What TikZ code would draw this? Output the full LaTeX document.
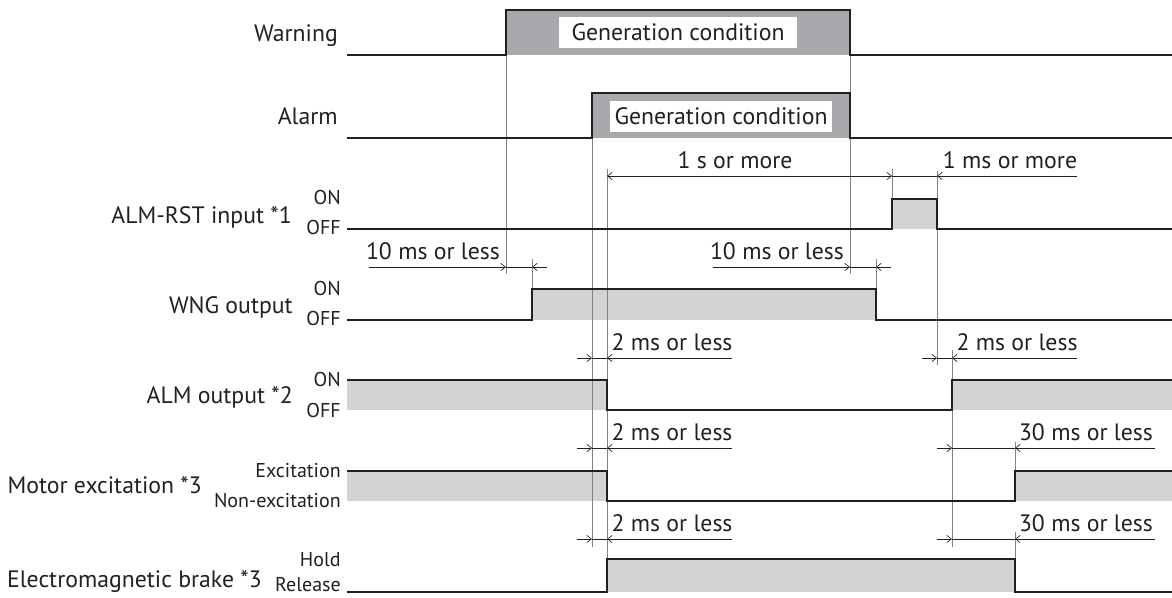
\documentclass[tikz,border=0pt]{standalone}
\usepackage{fontspec}
\setmainfont{PT Sans}
\usetikzlibrary{arrows.meta}
\definecolor{dk}{HTML}{231F20}
\definecolor{boxgray}{HTML}{A7A9AC}
\definecolor{litegray}{HTML}{D1D3D4}
\definecolor{guidegray}{HTML}{808285}
\begin{document}
\begin{tikzpicture}[x=0.75pt,y=-0.75pt,
  sig/.style={draw=dk,line width=0.9pt,line join=miter},
  guide/.style={draw=guidegray,line width=0.6pt},
  dim/.style={draw=dk,line width=0.5pt},
  tipr/.style={-{Straight Barb[length=3.5pt,width=5.5pt]}},
  tipb/.style={{Straight Barb[length=3.5pt,width=5.5pt]}-{Straight Barb[length=3.5pt,width=5.5pt]}},
  lab/.style={font=\fontsize{17.8}{19}\selectfont,text=dk,inner sep=0pt},
  st/.style={font=\fontsize{15}{17}\selectfont,text=dk,inner sep=0pt},
  gbox/.style={lab,fill=white,inner sep=0pt,minimum height=23.25pt}
]
\useasboundingbox (0,0) rectangle (1172,597);

% fills
\fill[boxgray] (506,10) rectangle (850,55);
\fill[boxgray] (592,93) rectangle (850,138);
\fill[litegray] (892,199) rectangle (937,229);
\fill[litegray] (532,289) rectangle (876,320);
\fill[litegray] (347,380) rectangle (607,410);
\fill[litegray] (952,380) rectangle (1172,410);
\fill[litegray] (347,471) rectangle (607,501);
\fill[litegray] (1015,471) rectangle (1172,501);
\fill[litegray] (607,559) rectangle (1015,592);

% guide lines
\draw[guide] (506,55) -- (506,274);
\draw[guide] (850,55) -- (850,93);
\draw[guide] (850,138) -- (850,274);
\draw[guide] (592,138) -- (592,547);
\draw[guide] (607,169) -- (607,380);
\draw[guide] (607,410) -- (607,471);
\draw[guide] (607,501) -- (607,559);
\draw[guide] (892,169) -- (892,199);
\draw[guide] (937,171) -- (937,199);
\draw[guide] (937,229) -- (937,365);
\draw[guide] (532,259) -- (532,289);
\draw[guide] (876,259) -- (876,289);
\draw[guide] (952,350) -- (952,380);
\draw[guide] (952,410) -- (952,547);
\draw[guide] (1015,442) -- (1015,471);
\draw[guide] (1015,532) -- (1015,559);

% signals
\draw[sig] (347,55) -- (506,55) -- (506,10) -- (850,10) -- (850,55) -- (1172,55);
\draw[sig] (347,138) -- (592,138) -- (592,93) -- (850,93) -- (850,138) -- (1172,138);
\draw[sig] (347,229) -- (892,229) -- (892,199) -- (937,199) -- (937,229) -- (1172,229);
\draw[sig] (347,320) -- (532,320) -- (532,289) -- (876,289) -- (876,320) -- (1172,320);
\draw[sig] (347,380) -- (607,380) -- (607,410) -- (952,410) -- (952,380) -- (1172,380);
\draw[sig] (347,471) -- (607,471) -- (607,501) -- (1015,501) -- (1015,471) -- (1172,471);
\draw[sig] (347,592) -- (607,592) -- (607,559) -- (1015,559) -- (1015,592) -- (1172,592);

% generation condition boxes
\node[gbox,minimum width=178.5pt] (gw) at (678,32.5) {Generation condition};
\node[gbox,minimum width=166.5pt] (ga) at (721,116.5) {Generation condition};

% row labels
\node[lab,anchor=base east] (lw) at (338,41) {Warning};
\node[lab,anchor=base east] (la) at (338,124) {Alarm};
\node[lab,anchor=base east] (lr) at (292,223) {ALM-RST input *1};
\node[st,anchor=base east] (lron) at (341,204) {ON};
\node[st,anchor=base east] (lroff) at (341,234) {OFF};
\node[lab,anchor=base east] (lg) at (293,313) {WNG output};
\node[st,anchor=base east] (lgon) at (341,295) {ON};
\node[st,anchor=base east] (lgoff) at (341,325) {OFF};
\node[lab,anchor=base east] (lo) at (293,403) {ALM output *2};
\node[st,anchor=base east] (loon) at (341,386) {ON};
\node[st,anchor=base east] (looff) at (341,417) {OFF};
\node[lab,anchor=base east] (lm) at (202,493) {Motor excitation *3};
\node[st,anchor=base east] (lmon) at (341,477) {Excitation};
\node[st,anchor=base east] (lmoff) at (341,507) {Non-excitation};
\node[lab,anchor=base east] (lb) at (262,587) {Electromagnetic brake *3};
\node[st,anchor=base east] (lbon) at (341,566) {Hold};
\node[st,anchor=base east] (lboff) at (341,591) {Release};

% dimension arrows
\draw[dim,tipb] (607,176) -- (892,176);
\draw[dim] (892,176) -- (937,176);
\draw[dim,tipr] (1077,176) -- (937,176);
\node[lab,anchor=base] (t1s) at (735,168) {1 s or more};
\node[lab,anchor=base] (t1ms) at (1010,168) {1 ms or more};

\draw[dim,tipr] (369,267) -- (506,267);
\draw[dim] (506,267) -- (532,267);
\draw[dim,tipr] (547,267) -- (532,267);
\node[lab,anchor=base] (t10a) at (433,259) {10 ms or less};

\draw[dim,tipr] (713,267) -- (850,267);
\draw[dim] (850,267) -- (876,267);
\draw[dim,tipr] (891,267) -- (876,267);
\node[lab,anchor=base] (t10b) at (777,259) {10 ms or less};

\foreach \yy in {358,448,539}{
  \draw[dim,tipr] (577,\yy) -- (592,\yy);
  \draw[dim] (592,\yy) -- (607,\yy);
  \draw[dim,tipr] (732,\yy) -- (607,\yy);
  \node[lab,anchor=base] at (672,\yy-8) {2 ms or less};
}

\draw[dim,tipr] (922,358) -- (937,358);
\draw[dim] (937,358) -- (952,358);
\draw[dim,tipr] (1077,358) -- (952,358);
\node[lab,anchor=base] (t2r) at (1017,350) {2 ms or less};

\foreach \yy in {448,539}{
  \draw[dim,tipr] (937,\yy) -- (952,\yy);
  \draw[dim] (952,\yy) -- (1015,\yy);
  \draw[dim,tipr] (1155,\yy) -- (1015,\yy);
  \node[lab,anchor=base] at (1086,\yy-8) {30 ms or less};
}
\end{tikzpicture}
\end{document}
